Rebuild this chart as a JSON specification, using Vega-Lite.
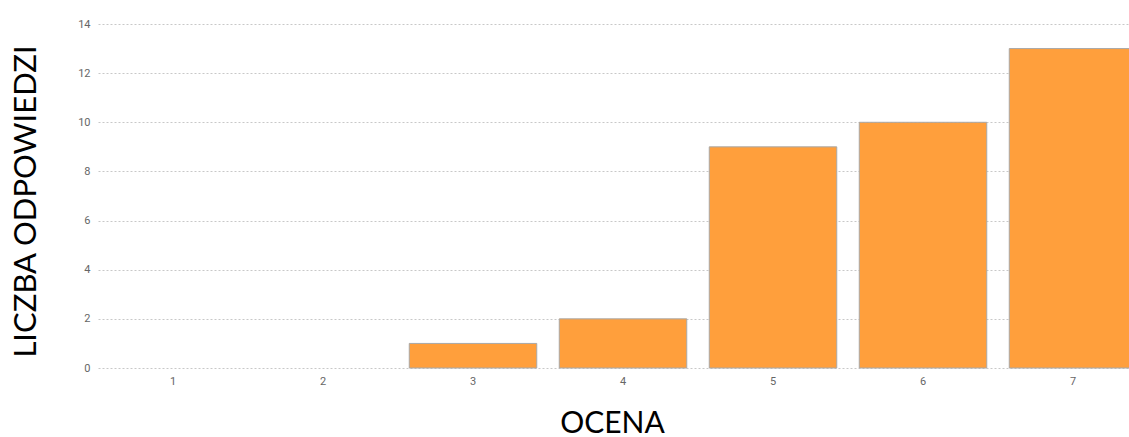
{
  "$schema": "https://vega.github.io/schema/vega-lite/v6.json",
  "autosize": "none",
  "padding": {"left": 98, "top": 24, "right": 0, "bottom": 69},
  "width": 1050,
  "height": 344,
  "background": "white",
  "config": {"view": {"stroke": null}},
  "data": {"values": [
    {"ocena": "1", "liczba": 0},
    {"ocena": "2", "liczba": 0},
    {"ocena": "3", "liczba": 1},
    {"ocena": "4", "liczba": 2},
    {"ocena": "5", "liczba": 9},
    {"ocena": "6", "liczba": 10},
    {"ocena": "7", "liczba": 13}
  ]},
  "mark": {"type": "bar", "color": "#FF9F3C", "stroke": "#A8A8A8", "strokeWidth": 1},
  "encoding": {
    "x": {
      "field": "ocena", "type": "nominal", "sort": null,
      "scale": {"paddingInner": 0.15, "paddingOuter": 0.075},
      "axis": {
        "title": "OCENA", "titleFont": "Lato", "titleFontSize": 30, "titleFontWeight": "normal", "titleColor": "#000",
        "titleX": 514, "titleY": 55, "titleBaseline": "middle",
        "labelAngle": 0, "labelFont": "Roboto", "labelFontSize": 11, "labelColor": "#666",
        "labelPadding": 7, "domain": false, "ticks": false, "grid": false
      }
    },
    "y": {
      "field": "liczba", "type": "quantitative",
      "scale": {"domain": [0, 14], "nice": false},
      "axis": {
        "title": "LICZBA ODPOWIEDZI", "titleFont": "Lato", "titleFontSize": 31, "titleFontWeight": "normal", "titleColor": "#000",
        "titleX": -72, "titleY": 177, "titleAngle": -90, "titleBaseline": "middle", "titleAlign": "center",
        "values": [0, 2, 4, 6, 8, 10, 12, 14],
        "labelFont": "Roboto", "labelFontSize": 11, "labelColor": "#666", "labelPadding": 8,
        "domain": false, "ticks": false,
        "grid": true, "gridColor": "#C8C8C8", "gridDash": [2, 2], "gridWidth": 1
      }
    },
    "strokeOpacity": {"condition": {"test": "datum.liczba > 0", "value": 1}, "value": 0}
  }
}
